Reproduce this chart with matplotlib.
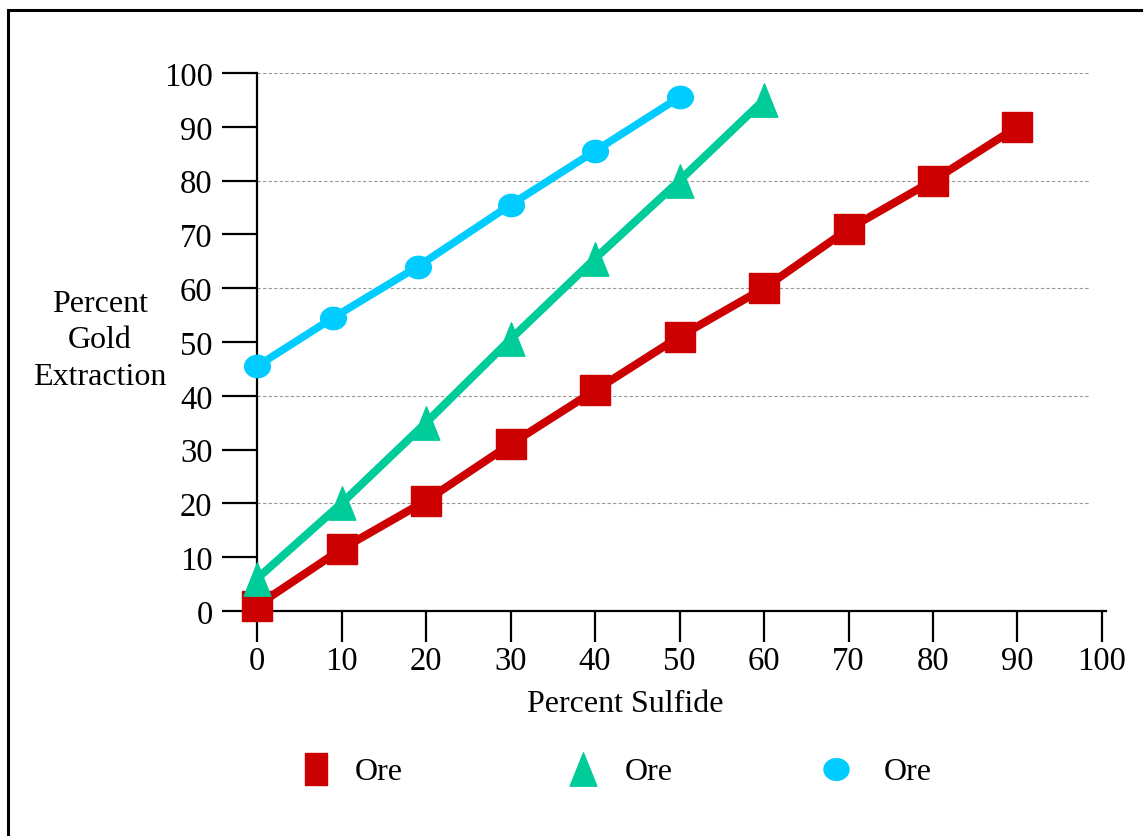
import matplotlib
matplotlib.use("Agg")
import matplotlib.pyplot as plt
import numpy as np
from matplotlib.path import Path
from matplotlib.patches import Rectangle

plt.rcParams['font.family'] = ['Liberation Serif', 'DejaVu Serif']

# Data
red_x = [0, 10, 20, 30, 40, 50, 60, 70, 80, 90]
red_y = [1, 11.5, 20.5, 31, 41, 51, 60, 71, 80, 90]
green_x = [0, 10, 20, 30, 40, 50, 60]
green_y = [6, 20, 35, 50.5, 65.5, 80, 95]
cyan_x = [0, 9, 19, 30, 40, 50]
cyan_y = [45.5, 54.5, 64, 75.5, 85.5, 95.5]
x_ticks = [0, 10, 20, 30, 40, 50, 60, 70, 80, 90, 100]
y_ticks = [0, 10, 20, 30, 40, 50, 60, 70, 80, 90, 100]
grid_levels = [20, 40, 60, 80, 100]
legend_labels = ["Ore", "Ore", "Ore"]

RED = "#CC0000"
GREEN = "#00CC99"
CYAN = "#00CCFF"

tri = Path([(0, 1), (-0.8, -1), (0.8, -1), (0, 1)], [Path.MOVETO, Path.LINETO, Path.LINETO, Path.CLOSEPOLY])
t = np.linspace(0, 2 * np.pi, 60)
ell_verts = np.column_stack([1.15 * np.cos(t), np.sin(t)])
ell = Path(ell_verts, closed=True)
rect_leg = Path([(-0.7, -1), (0.7, -1), (0.7, 1), (-0.7, 1), (-0.7, -1)],
                [Path.MOVETO, Path.LINETO, Path.LINETO, Path.LINETO, Path.CLOSEPOLY])

W, H = 1143, 837
fig = plt.figure(figsize=(W / 100, H / 100), dpi=100)

# outer frame
fig.patches.append(Rectangle((7.5 / W, -0.05), 1.2, 1 - 10.5 / H + 0.05, transform=fig.transFigure,
                             fill=False, edgecolor='black', linewidth=2.2))

ax = fig.add_axes([257 / W, 1 - 612 / H, 845 / W, 538 / H])
ax.set_xlim(0, 100)
ax.set_ylim(0, 100)
for s in ['top', 'right']:
    ax.spines[s].set_visible(False)
for s in ['left', 'bottom']:
    ax.spines[s].set_linewidth(1.6)
ax.spines['bottom'].set_bounds(0, 100.5)

for g in grid_levels:
    ax.axhline(g, xmin=0, xmax=0.985, color='#999999', linestyle=(0, (3, 2)), linewidth=0.8, zorder=0)

ax.set_xticks(x_ticks)
ax.set_yticks(y_ticks)
ax.tick_params(axis='y', direction='out', length=25, width=1.6, pad=7, labelsize=23.5)
ax.tick_params(axis='x', direction='out', length=22, width=1.6, pad=3, labelsize=23.5)

ax.plot(red_x, red_y, color=RED, linewidth=5.8, marker='s', markersize=22, clip_on=False, zorder=3)
ax.plot(green_x, green_y, color=GREEN, linewidth=5.8, marker=tri, markersize=24, clip_on=False, zorder=4)
ax.plot(cyan_x, cyan_y, color=CYAN, linewidth=5.5, marker=ell, markersize=18.5, clip_on=False, zorder=5)

fig.text(100 / W, 1 - 341 / H, "Percent\nGold\nExtraction", ha='center', va='center',
         fontsize=23, linespacing=1.33)
fig.text(625 / W, 1 - 705 / H, "Percent Sulfide", ha='center', va='center', fontsize=23)

# legend
leg_items = [(316, RED, rect_leg, 23), (583, GREEN, tri, 24), (836, CYAN, ell, 18)]
text_x = [355, 625, 884]
for (px, col, mk, ms), tx, lab in zip(leg_items, text_x, legend_labels):
    fig.add_artist(plt.Line2D([px / W], [1 - 770 / H], marker=mk, markersize=ms, color=col,
                              linestyle='none', transform=fig.transFigure))
    fig.text(tx / W, 1 - 773 / H, lab, ha='left', va='center', fontsize=23)

fig.savefig("out.png", dpi=100)
